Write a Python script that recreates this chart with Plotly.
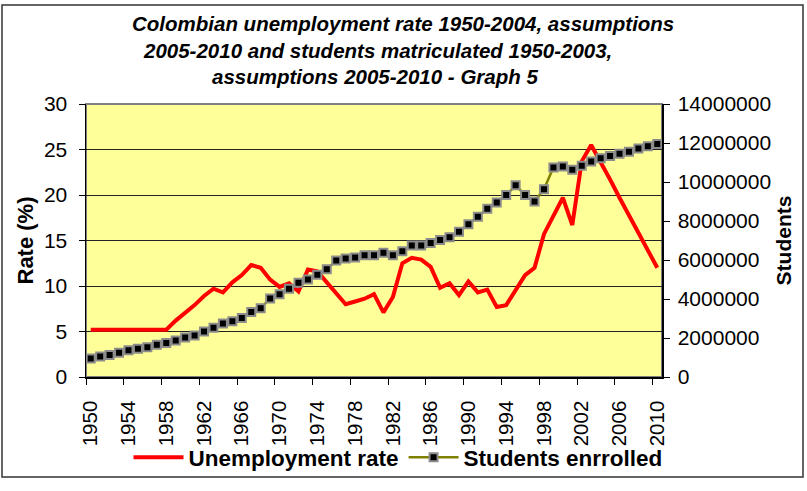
import plotly.graph_objects as go

years = list(range(1950, 2011))

unemployment = [5.2, 5.2, 5.2, 5.2, 5.2, 5.2, 5.2, 5.2, 5.2,
                6.2, 7.0, 7.9, 8.9, 9.7, 9.3, 10.4, 11.2, 12.3, 12.0, 10.7,
                9.9, 10.3, 9.4, 11.8, 11.6, 10.4, 9.1, 8.0, 8.3, 8.6,
                9.1, 7.1, 8.8, 12.5, 13.1, 12.9, 12.1, 9.8, 10.3, 9.0,
                10.5, 9.3, 9.6, 7.7, 7.9, 9.5, 11.2, 12.0, 15.7, 17.7,
                19.7, 16.7, 23.7, 25.5, 23.7, 21.7, 19.7, 17.8, 15.8, 13.9,
                12.0]

students = [950000, 1050000, 1130000, 1250000, 1370000, 1450000, 1530000, 1650000, 1750000, 1870000,
            2030000, 2130000, 2330000, 2530000, 2750000, 2860000, 3030000, 3330000, 3530000, 4030000,
            4250000, 4530000, 4830000, 5000000, 5250000, 5530000, 5970000, 6080000, 6130000, 6250000,
            6250000, 6370000, 6250000, 6450000, 6750000, 6750000, 6870000, 7030000, 7170000, 7450000,
            7830000, 8220000, 8630000, 8950000, 9330000, 9830000, 9330000, 9000000, 9630000, 10750000,
            10800000, 10630000, 10830000, 11050000, 11220000, 11330000, 11450000, 11550000, 11720000, 11830000,
            11950000]

xtick_years = list(range(1950, 2011, 4))
title_lines = ["Colombian unemployment rate 1950-2004, assumptions",
               "2005-2010 and students matriculated 1950-2003,",
               "assumptions 2005-2010 - Graph 5"]

FONT = "Liberation Sans, Arial, sans-serif"

fig = go.Figure()
fig.add_trace(go.Scatter(
    x=years, y=unemployment, name="Unemployment rate", mode="lines",
    line=dict(color="#FF0000", width=4), yaxis="y"))
fig.add_trace(go.Scatter(
    x=years, y=students, name="Students enrrolled", mode="lines+markers",
    line=dict(color="#808000", width=2.5),
    marker=dict(symbol="square", size=8, color="black",
                line=dict(color="#8C8C8C", width=2)),
    yaxis="y2"))

W, H = 807, 491
PL, PR, PT, PB = 86, 662, 104, 385          # plot area in pixels
L, R, T, B = PL, W - PR, PT, H - PB
pw, ph = PR - PL, PB - PT

def px_x(p):
    return (p - PL) / pw

def px_y(p):
    return (PB - p) / ph

annotations = []
title_centers = [(403, 21), (377, 49), (375, 76)]
for txt, (cx, cy) in zip(title_lines, title_centers):
    annotations.append(dict(
        text=txt, x=px_x(cx), y=px_y(cy), xref="paper", yref="paper",
        xanchor="center", yanchor="middle", showarrow=False,
        font=dict(family=FONT, size=20.5, color="black", weight="bold", style="italic")))

fig.update_layout(
    width=W, height=H,
    margin=dict(l=L, r=R, t=T, b=B),
    paper_bgcolor="white",
    plot_bgcolor="#FFFF99",
    font=dict(family=FONT, size=21, color="black"),
    hovermode=False,
    showlegend=True,
    legend=dict(orientation="h", x=px_x(398), y=px_y(468),
                xanchor="center", yanchor="middle",
                font=dict(family=FONT, size=22.5, color="black", weight="bold"),
                bgcolor="rgba(0,0,0,0)", itemwidth=50, tracegroupgap=0),
    xaxis=dict(
        range=[1949.5, 2010.5], tickmode="array", tickvals=xtick_years,
        ticktext=[str(y) for y in xtick_years], tickangle=-90,
        ticks="", ticklabelstandoff=14, showgrid=False, zeroline=False,
        showline=True, linecolor="black", linewidth=1.5,
        tickfont=dict(family=FONT, size=20.5, color="black"),
        minor=dict(tickmode="array", tickvals=[y - 0.5 for y in xtick_years],
                   ticks="outside", ticklen=6, tickcolor="black", tickwidth=1,
                   showgrid=False)),
    yaxis=dict(
        range=[0, 30], dtick=5, tick0=0, ticks="outside", ticklen=6,
        tickcolor="black", showgrid=True, gridcolor="#222222", gridwidth=1,
        zeroline=False, showline=True, linecolor="black", linewidth=1.5,
        tickfont=dict(family=FONT, size=21, color="black"),
        ticklabelstandoff=7,
        title=dict(text="Rate (%)", standoff=4,
                   font=dict(family=FONT, size=22, color="black", weight="bold"))),
    yaxis2=dict(
        range=[0, 14000000], dtick=2000000, tick0=0, overlaying="y", side="right",
        tickformat="d", ticks="outside", ticklen=6, tickcolor="black",
        showgrid=False, zeroline=False, showline=True, linecolor="black", linewidth=1.5,
        tickfont=dict(family=FONT, size=21, color="black"),
        ticklabelstandoff=4,
        title=dict(text="Students", standoff=6,
                   font=dict(family=FONT, size=21, color="black", weight="bold"))),
    annotations=annotations,
    shapes=[
        dict(type="rect", xref="paper", yref="paper", x0=0, x1=1, y0=0, y1=1,
             line=dict(color="#808080", width=2), layer="below"),
        dict(type="rect", xref="paper", yref="paper",
             x0=px_x(2), x1=px_x(803), y0=px_y(488), y1=px_y(2),
             line=dict(color="#333333", width=1.5)),
    ],
)

# remove the default page margin so the 807x491 figure fills the window exactly
fig.write_html("out.html", config={"displayModeBar": False, "staticPlot": True},
               post_script="document.body.style.margin='0';")
